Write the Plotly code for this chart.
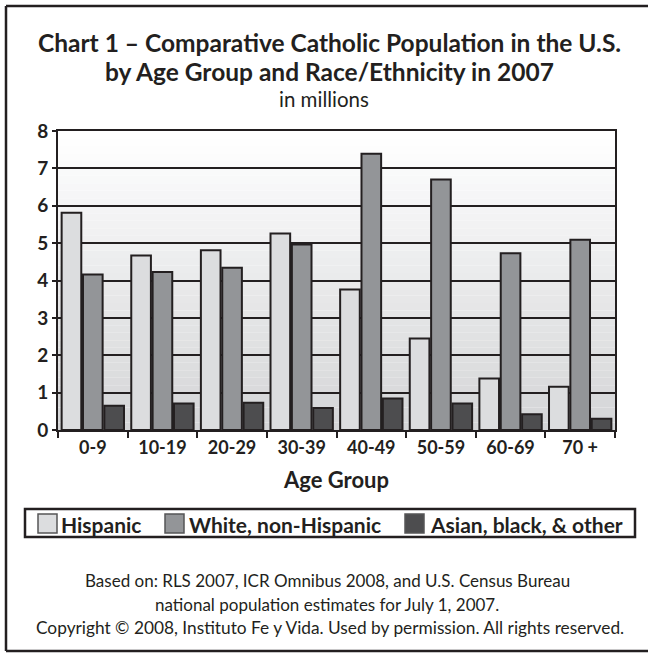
import plotly.graph_objects as go

# ---- data ----
age_groups = ["0-9", "10-19", "20-29", "30-39", "40-49", "50-59", "60-69", "70 +"]
hispanic = [5.81, 4.67, 4.81, 5.26, 3.76, 2.45, 1.38, 1.16]
white_non_hispanic = [4.16, 4.23, 4.34, 4.96, 7.39, 6.70, 4.73, 5.09]
asian_black_other = [0.65, 0.71, 0.73, 0.59, 0.84, 0.71, 0.42, 0.30]
series_names = ["Hispanic", "White, non-Hispanic", "Asian, black, & other"]
series_colors = ["#dcdddf", "#939598", "#4d4d4f"]
y_ticks = [0, 1, 2, 3, 4, 5, 6, 7, 8]

FONT = "Lato"
INK = "#231f20"

W, H = 648, 654
L, R, T, B = 58, 33, 131, 224
PW = W - L - R
PH = H - T - B


def px_x(x):
    return (x - L) / PW


def px_y(y):
    return (H - B - y) / PH


fig = go.Figure()
for name, vals, col in zip(series_names, [hispanic, white_non_hispanic, asian_black_other], series_colors):
    fig.add_trace(go.Bar(
        x=age_groups, y=vals, name=name, showlegend=False,
        marker=dict(color=col, line=dict(color=INK, width=2)),
    ))

# gradient background of plot area (white top -> light grey bottom)
N = 40
shapes = []
for i in range(N):
    t = i / (N - 1)
    top = (255, 255, 255)
    bot = (212, 213, 215)
    c = tuple(round(bot[k] + (top[k] - bot[k]) * t) for k in range(3))
    shapes.append(dict(type="rect", xref="x domain", yref="y domain",
                       x0=0, x1=1, y0=i / N, y1=(i + 1) / N,
                       fillcolor="rgb(%d,%d,%d)" % c, line=dict(width=0), layer="below"))
# outer frame (right side falls outside the picture)
for (x0, y0, x1, y1) in [(6, 6, 660, 6), (6, 6, 6, 651), (6, 651, 660, 651)]:
    shapes.append(dict(type="line", xref="paper", yref="paper",
                       x0=px_x(x0), x1=px_x(x1), y0=px_y(y0), y1=px_y(y1),
                       line=dict(color=INK, width=2.5), layer="above"))

# legend box (manual)
shapes.append(dict(type="rect", xref="paper", yref="paper",
                   x0=px_x(25), x1=px_x(635), y0=px_y(537), y1=px_y(509),
                   line=dict(color=INK, width=2.5), fillcolor="white", layer="above"))
swatch_x = [38, 165, 405]
label_x = [59, 187, 428]
annotations = []
for sx, lx, name, col in zip(swatch_x, label_x, series_names, series_colors):
    shapes.append(dict(type="rect", xref="paper", yref="paper",
                       x0=px_x(sx), x1=px_x(sx + 19), y0=px_y(533), y1=px_y(514),
                       line=dict(color="#555557", width=1.5), fillcolor=col, layer="above"))
    annotations.append(dict(text="<b>%s</b>" % name.replace("&", "&amp;"), x=px_x(lx), y=px_y(524),
                            xanchor="left", font=dict(size=21, color=INK, family=FONT)))

annotations += [
    dict(text="<b>Chart 1 – Comparative Catholic Population in the U.S.</b>", x=px_x(329), y=px_y(42),
         font=dict(size=24.5, color=INK, family=FONT)),
    dict(text="<b>by Age Group and Race/Ethnicity in 2007</b>", x=px_x(329), y=px_y(72),
         font=dict(size=24.5, color=INK, family=FONT)),
    dict(text="in millions", x=px_x(324), y=px_y(99),
         font=dict(size=20.5, color=INK, family=FONT)),
    dict(text="Based on: RLS 2007, ICR Omnibus 2008, and U.S. Census Bureau", x=px_x(327), y=px_y(580),
         font=dict(size=17, color=INK, family=FONT)),
    dict(text="national population estimates for July 1, 2007.", x=px_x(327), y=px_y(604),
         font=dict(size=17, color=INK, family=FONT)),
    dict(text="Copyright © 2008, Instituto Fe y Vida. Used by permission. All rights reserved.", x=px_x(330),
         y=px_y(627), font=dict(size=17.3, color=INK, family=FONT)),
]
for a in annotations:
    a.update(xref="paper", yref="paper", showarrow=False, yanchor="middle")
    a.setdefault("xanchor", "center")

fig.update_layout(
    width=W, height=H,
    margin=dict(l=L, r=R, t=T, b=B),
    paper_bgcolor="white", plot_bgcolor="white",
    barmode="group", bargap=0.08, bargroupgap=0.08,
    font=dict(family=FONT, color=INK),
    shapes=shapes, annotations=annotations,
    showlegend=False,
)
fig.update_xaxes(
    type="category", showgrid=False, showline=True, linecolor=INK, linewidth=2,
    ticks="outside", tickson="boundaries", ticklen=6, tickwidth=1.5, tickcolor=INK,
    tickfont=dict(size=18, family=FONT, color=INK, weight="bold"),
    title=dict(text="<b>Age Group</b>", font=dict(size=22, family=FONT, color=INK), standoff=16),
    mirror=True,
)
fig.update_yaxes(
    range=[0, 8], tickvals=y_ticks, showgrid=True, gridcolor=INK, gridwidth=2,
    showline=True, linecolor=INK, linewidth=2, mirror=True,
    ticks="outside", ticklen=4, tickwidth=2, tickcolor=INK,
    tickfont=dict(size=19, family=FONT, color=INK, weight="bold"),
    zeroline=False,
)

fig.write_html("out.html")
